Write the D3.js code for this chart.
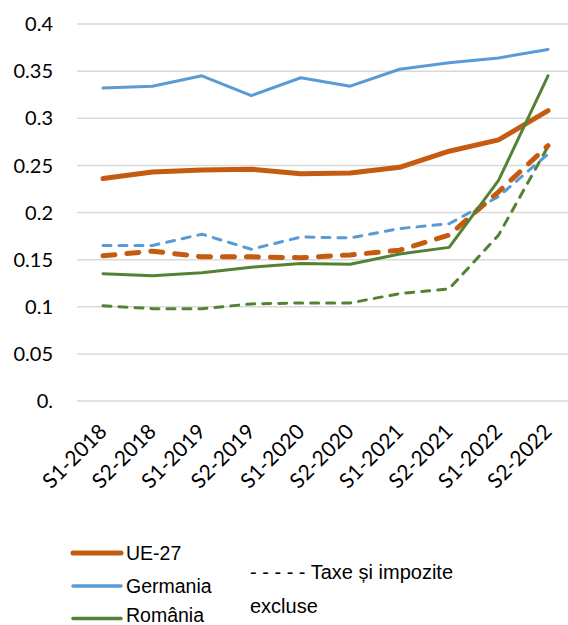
<!DOCTYPE html>
<html><head><meta charset="utf-8">
<script src="https://cdn.jsdelivr.net/npm/d3@7"></script>
<style>body{margin:0;background:#fff}svg{display:block}</style>
</head><body>
<svg id="c" width="568" height="625"></svg>
<script>
const categories = ["S1-2018","S2-2018","S1-2019","S2-2019","S1-2020","S2-2020","S1-2021","S2-2021","S1-2022","S2-2022"];
const ue27 = [0.236,0.243,0.245,0.246,0.241,0.242,0.248,0.265,0.277,0.308];
const germania = [0.332,0.334,0.345,0.324,0.343,0.334,0.352,0.359,0.364,0.373];
const romania = [0.135,0.133,0.136,0.142,0.146,0.145,0.156,0.163,0.234,0.345];
const ue27Excl = [0.154,0.159,0.153,0.153,0.152,0.155,0.160,0.176,0.222,0.271];
const germaniaExcl = [0.165,0.165,0.177,0.161,0.174,0.173,0.183,0.188,0.217,0.262];
const romaniaExcl = [0.101,0.098,0.098,0.103,0.104,0.104,0.114,0.119,0.176,0.270];
const yTicks = [0,0.05,0.1,0.15,0.2,0.25,0.3,0.35,0.4];
const yTickLabels = ["0.","0.05","0.1","0.15","0.2","0.25","0.3","0.35","0.4"];

const svg = d3.select("#c");
const x = d3.scalePoint().domain(categories).range([103,548]);
const y = d3.scaleLinear().domain([0,0.4]).range([401,24]);

// gridlines
svg.append("g").selectAll("line").data(yTicks).join("line")
  .attr("x1",77).attr("x2",568)
  .attr("y1",d=>y(d)).attr("y2",d=>y(d))
  .attr("stroke","#d9d9d9").attr("stroke-width",1.5);

// y labels
svg.append("g").selectAll("text").data(yTicks).join("text")
  .attr("x",53).attr("y",d=>y(d)).attr("dy","0.36em")
  .attr("text-anchor","end")
  .attr("font-family","Lato, 'Open Sans', sans-serif").attr("font-size",20).attr("fill","#000")
  .text((d,i)=>yTickLabels[i]);

// x labels
svg.append("g").selectAll("text").data(categories).join("text")
  .attr("transform",d=>`translate(${x(d)+5},433) rotate(-45)`)
  .attr("text-anchor","end")
  .attr("font-family","Lato, 'Open Sans', sans-serif").attr("font-size",21).attr("fill","#000")
  .text(d=>d);

const line = d3.line().x((d,i)=>x(categories[i])).y(d=>y(d));
const series = [
  {v: romaniaExcl, c:"#548235", w:3, dash:"8,8"},
  {v: germaniaExcl, c:"#5b9bd5", w:3, dash:"8,8"},
  {v: ue27Excl, c:"#c55a11", w:5, dash:"12,12"},
  {v: germania, c:"#5b9bd5", w:3, dash:null},
  {v: ue27, c:"#c55a11", w:5, dash:null},
  {v: romania, c:"#548235", w:3, dash:null}
];
svg.append("g").selectAll("path").data(series).join("path")
  .attr("d",d=>line(d.v)).attr("fill","none")
  .attr("stroke",d=>d.c).attr("stroke-width",d=>d.w)
  .attr("stroke-dasharray",d=>d.dash)
  .attr("stroke-linecap","round").attr("stroke-linejoin","round");

// legend
const legend = [
  {label:"UE-27", c:"#c55a11", w:5, y:553, ty:560},
  {label:"Germania", c:"#5b9bd5", w:3.5, y:586, ty:593},
  {label:"România", c:"#548235", w:3.5, y:618.5, ty:621.5}
];
const lg = svg.append("g");
lg.selectAll("line").data(legend).join("line")
  .attr("x1",73).attr("x2",121).attr("y1",d=>d.y).attr("y2",d=>d.y)
  .attr("stroke",d=>d.c).attr("stroke-width",d=>d.w).attr("stroke-linecap","round");
lg.selectAll("text").data(legend).join("text")
  .attr("x",126).attr("y",d=>d.ty)
  .attr("font-family","'Liberation Sans', Arial, sans-serif").attr("font-size",19.5).attr("fill","#000")
  .text(d=>d.label);
lg.append("text").attr("x",250).attr("y",579)
  .attr("font-family","'Liberation Sans', Arial, sans-serif").attr("font-size",20).attr("fill","#000")
  .text("- - - - - Taxe și impozite");
lg.append("text").attr("x",250).attr("y",613)
  .attr("font-family","'Liberation Sans', Arial, sans-serif").attr("font-size",20).attr("fill","#000")
  .text("excluse");
</script>
</body></html>
